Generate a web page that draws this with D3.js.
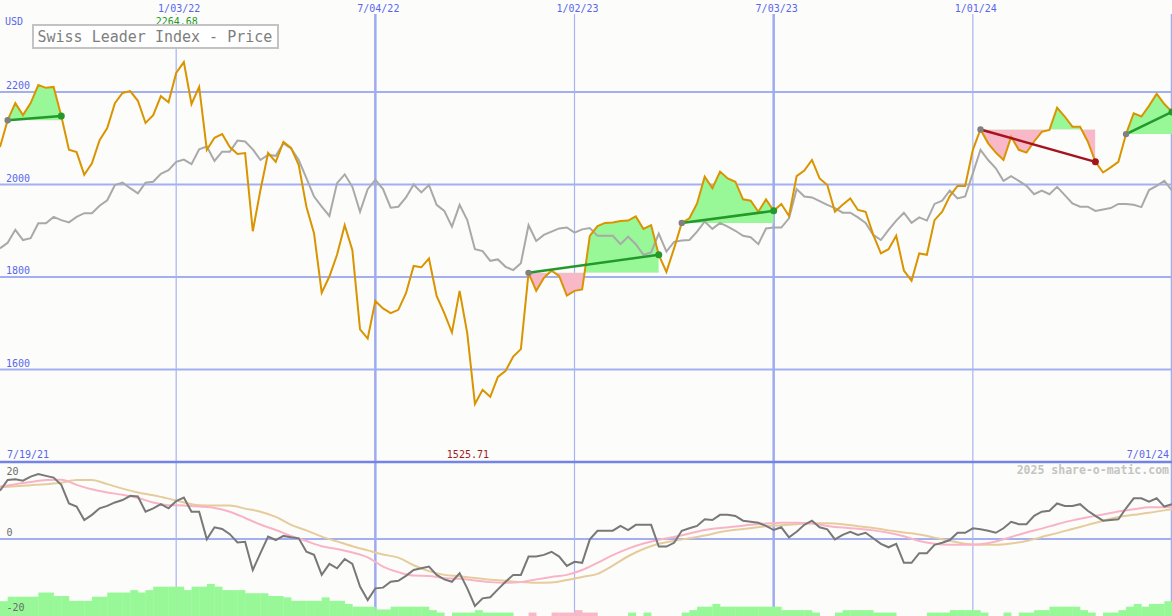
<!DOCTYPE html>
<html><head><meta charset="utf-8">
<script src="https://cdn.jsdelivr.net/npm/d3@7/dist/d3.min.js"></script>
<style>html,body{margin:0;padding:0;background:#fcfdfa;}svg{display:block;}</style>
</head><body>
<svg id="c" width="1172" height="616"></svg>
<script>
// ---------- DATA ----------
const firstWeek = "2021-07-26";   // first weekly point
const title = "Swiss Leader Index - Price";
const currency = "USD";
const startLabel = "7/19/21";
const endLabel = "7/01/24";
const watermark = "2025 share-o-matic.com";

const price = [
2081,2139,2176,2150,2176,2215,2209,2211,2148,2075,
2070,2021,2046,2096,2122,2176,2198,2202,2181,2133,
2150,2191,2178,2241,2264.68,2174,2211,2075,2101,2109,
2081,2066,2068,1899,1988,2068,2049,2092,2079,2042,
1952,1894,1766,1801,1848,1912,1858,1687,1667,1748,
1732,1722,1729,1765,1824,1821,1840,1759,1722,1680,
1770,1678,1525.71,1556,1541,1584,1597,1628,1644,1809,
1770,1798,1814,1802,1760,1770,1773,1889,1910,1917,
1918,1921,1922,1931,1904,1912,1848,1811,1862,1917,
1927,1959,2017,1992,2028,2013,2006,1968,1965,1941,
1968,1943,1958,1932,2018,2030,2053,2013,1999,1941,
1956,1970,1945,1941,1891,1851,1860,1889,1814,1792,
1851,1848,1923,1941,1975,1997,1997,2075,2119,2089,
2069,2053,2103,2075,2069,2093,2114,2118,2166,2147,
2125,2125,2093,2049,2026,2037,2049,2109,2154,2147,
2170,2196,2174,2157];

const benchmark = [
1862,1874,1902,1880,1884,1916,1916,1930,1923,1918,
1930,1938,1938,1954,1966,1999,2004,1992,1981,2004,
2006,2023,2031,2049,2054,2044,2076,2082,2051,2071,
2071,2095,2093,2076,2053,2064,2062,2089,2078,2053,
2014,1974,1952,1932,2003,2022,1995,1941,1990,2010,
1990,1950,1952,1972,2000,1983,1999,1956,1943,1909,
1956,1923,1860,1856,1835,1838,1822,1815,1830,1912,
1878,1891,1898,1905,1907,1896,1903,1906,1889,1889,
1889,1871,1887,1871,1848,1853,1894,1855,1876,1879,
1880,1898,1920,1904,1917,1909,1900,1889,1886,1871,
1905,1907,1907,1927,1990,1974,1972,1964,1956,1949,
1939,1939,1929,1917,1891,1880,1902,1922,1939,1917,
1929,1922,1958,1965,1987,1970,1974,2024,2075,2053,
2035,2008,2018,2008,1997,1979,1987,1979,1995,1977,
1959,1952,1952,1943,1946,1949,1958,1958,1956,1951,
1988,1997,2008,1987];

const momentum = [
14.0,17.1,17.3,16.9,18.1,18.8,18.3,17.8,15.7,10.3,
9.4,5.5,7.0,8.9,9.6,10.6,11.3,12.5,12.3,7.9,
8.9,10.1,8.9,11.0,12.0,7.9,7.9,-0.1,3.4,2.9,
1.4,-1.0,-0.8,-9.0,-4.1,0.7,-0.3,0.9,0.5,0.2,
-3.7,-4.6,-10.4,-7.2,-8.5,-5.8,-7.2,-13.8,-17.7,-14.3,
-14.1,-12.4,-12.1,-10.7,-9.0,-8.5,-8.0,-10.4,-11.7,-12.4,
-9.9,-14.3,-19.4,-17.2,-16.9,-14.6,-12.4,-10.4,-10.4,-5.1,
-5.1,-4.6,-3.7,-5.1,-7.8,-6.6,-6.9,-0.1,2.4,2.4,
2.4,3.8,2.6,4.1,4.1,4.1,-2.2,-2.2,-1.1,2.4,
3.1,3.8,5.7,5.5,7.0,7.0,6.7,5.3,5.0,4.7,
3.8,2.6,3.4,0.5,2.1,4.1,5.3,3.4,2.8,-0.1,
1.2,2.1,1.2,1.8,0.2,-1.4,-2.4,-1.4,-6.9,-6.9,
-4.1,-4.1,-1.7,-1.1,-0.3,1.8,1.8,3.1,2.8,2.4,
1.8,3.1,5.0,4.3,4.3,6.7,7.9,8.2,10.3,9.6,
9.6,10.1,8.2,6.7,5.3,5.5,5.7,8.9,11.8,11.8,
10.8,11.8,9.4,10.1];

// moving averages of the momentum, read every second week (+ last week)
const maFast = [
15.2,15.9,16.5,17.1,17.2,15.7,14.4,13.5,12.8,11.9,
10.6,9.8,9.7,9.4,9.0,7.9,6.1,4.2,2.6,0.9,
-0.6,-2.1,-2.9,-3.9,-5.3,-8.0,-9.6,-10.6,-10.7,-11.4,
-11.5,-12.0,-12.5,-12.7,-12.5,-11.7,-11.0,-10.4,-9.0,-6.9,
-4.7,-2.8,-1.3,-0.2,0.6,1.6,2.6,3.2,3.6,4.1,
4.5,4.7,4.7,4.5,3.8,3.3,3.0,2.5,1.8,0.8,
-0.6,-1.4,-1.7,-1.7,-1.5,-0.7,0.6,1.9,3.0,4.3,
5.4,6.3,7.1,8.0,8.6,9.2,9.2,9.2];
const maSlow = [
15.0,15.3,15.6,15.9,16.3,17.1,17.1,15.9,14.6,13.5,
12.7,11.7,10.6,9.8,9.7,9.7,8.8,7.9,6.4,4.1,
2.5,0.7,-0.7,-2.1,-3.3,-4.5,-5.4,-7.6,-9.3,-10.4,
-10.8,-11.3,-11.8,-12.1,-12.5,-12.7,-12.6,-11.9,-11.0,-10.1,
-7.7,-5.0,-2.9,-1.4,-0.5,0.2,1.0,2.0,2.7,3.1,
3.7,4.0,4.3,4.6,4.6,4.3,3.7,3.2,2.5,1.9,
1.3,0.4,-0.5,-1.4,-1.7,-1.7,-1.3,-0.6,0.6,1.7,
2.9,4.1,5.3,6.4,7.0,7.6,8.3,8.6];

const histogram = [
4.3,5.6,5.6,5.6,5.6,6.8,6.8,5.8,5.8,4.4,
4.4,4.4,5.6,5.6,6.8,6.8,6.8,7.5,6.8,7.5,
8.5,8.5,8.5,8.5,7.5,8.5,8.5,9.3,8.5,7.5,
7.5,7.5,6.6,6.6,6.6,5.8,5.8,5.4,4.4,4.4,
4.4,4.4,5.4,4.4,4.4,3.5,2.7,2.7,2.7,1.9,
1.9,2.7,2.7,2.7,2.7,2.7,1.7,1.0,0,1.0,
1.0,1.0,1.7,1.0,1.0,1.0,1.0,0,0,-1.0,
0,0,-1.0,-1.0,-1.0,-1.7,-1.0,-1.0,0,0,
0,0,1.0,0,1.0,0,0,0,0,1.0,
1.7,2.7,2.7,3.5,2.7,2.7,2.7,2.7,2.7,2.7,
2.7,2.7,1.7,1.7,1.7,1.7,1.0,0,0,1.0,
1.7,1.7,1.7,1.7,1.0,1.0,1.0,0,0,0,
0,1.0,1.0,1.0,1.7,1.7,1.7,1.7,1.0,0,
0,1.0,0,1.0,1.0,1.7,1.7,2.7,2.7,2.7,
2.7,1.7,1.0,0,1.0,1.0,1.7,2.7,3.5,2.7,
3.5,3.5,4.3,0];

const trendStart = [1, 69, 89, 128, 147];
const trendEnd   = [8, 86, 101, 143, 153];

const xTickDates  = ["2022-01-03","2022-07-04","2023-01-02","2023-07-03","2024-01-01","2024-07-01"];
const xTickLabels = ["1/03/22","7/04/22","1/02/23","7/03/23","1/01/24",""];
const yTicks = [1600, 1800, 2000, 2200];
const yTickLabels = ["1600","1800","2000","2200"];
const bTicks = [-20, 0, 20];
const bTickLabels = ["-20","0","20"];

// ---------- CHART ----------
const W = 1172, H = 616;
const parse = d3.timeParse("%Y-%m-%d");
const d0 = parse(firstWeek);
const dates = price.map((_, i) => d3.timeDay.offset(d0, 7 * i));
const maDates = d3.range(0, price.length - 1, 2).concat([price.length - 1]).map(i => dates[i]);

const x = d3.scaleTime().domain([dates[0], dates[dates.length - 1]]).range([0, W]);
const y = d3.scaleLinear().domain([1600, 2200]).range([369.5, 92]);
const yb = d3.scaleLinear().domain([-20, 20]).range([608, 470]);
const hh = d3.scaleLinear().domain([0, 20]).range([0, 69]);

const svg = d3.select("#c");
const mono = "'DejaVu Sans Mono', 'Liberation Mono', monospace";
svg.append("rect").attr("width", W).attr("height", H).attr("fill", "#fcfdfa");

const gridColor = "#a3aff0";
// horizontal grid main
svg.append("g").selectAll("line").data(yTicks).join("line")
  .attr("x1", 0).attr("x2", W).attr("y1", d => y(d)).attr("y2", d => y(d))
  .attr("stroke", gridColor).attr("stroke-width", 2);
// bottom zero line
svg.append("line").attr("x1", 0).attr("x2", W).attr("y1", yb(0)).attr("y2", yb(0))
  .attr("stroke", gridColor).attr("stroke-width", 2);
// vertical grid
xTickDates.forEach(s => {
  const d = parse(s), jul = d.getMonth() === 6;
  svg.append("line").attr("x1", x(d)).attr("x2", x(d)).attr("y1", 14).attr("y2", H)
    .attr("stroke", jul ? "#9fabef" : "#a8b3f2").attr("stroke-width", jul ? 2.5 : 1.2);
});
// separator
svg.append("line").attr("x1", 0).attr("x2", W).attr("y1", 462).attr("y2", 462)
  .attr("stroke", "#7484e6").attr("stroke-width", 2.5);

// histogram
const green = "#98f898", pink = "#f8b8c8";
svg.append("g").selectAll("rect").data(histogram.slice(0, -1)).join("rect")
  .attr("x", (d, i) => x(dates[i]))
  .attr("width", (d, i) => x(dates[i + 1]) - x(dates[i]) + 0.3)
  .attr("y", d => H - hh(Math.abs(d)))
  .attr("height", d => hh(Math.abs(d)))
  .attr("fill", d => d >= 0 ? green : pink);

// bottom lines
const lb = d3.line().x((d, i) => x(dates[i])).y(d => yb(d));
const lm = d3.line().x((d, i) => x(maDates[i])).y(d => yb(d)).curve(d3.curveMonotoneX);
svg.append("path").attr("d", lm(maSlow)).attr("fill", "none").attr("stroke", "#e6cc9c").attr("stroke-width", 2);
svg.append("path").attr("d", lm(maFast)).attr("fill", "none").attr("stroke", "#f8b4c6").attr("stroke-width", 2);
svg.append("path").attr("d", lb(momentum)).attr("fill", "none").attr("stroke", "#787878").attr("stroke-width", 2);

// trend fills
const defs = svg.append("defs");
trendStart.forEach((s, k) => {
  const e = trendEnd[k];
  const idx = d3.range(s, e + 1);
  const base = y(price[s]);
  const x0 = x(dates[s]), x1 = x(dates[e]);
  defs.append("clipPath").attr("id", "up" + k).append("rect")
    .attr("x", x0).attr("width", x1 - x0).attr("y", 0).attr("height", base);
  defs.append("clipPath").attr("id", "dn" + k).append("rect")
    .attr("x", x0).attr("width", x1 - x0).attr("y", base).attr("height", 462 - base);
  const ar = d3.area().x(i => x(dates[i])).y0(base).y1(i => y(price[i]));
  svg.append("path").attr("d", ar(idx)).attr("fill", green).attr("clip-path", `url(#up${k})`);
  svg.append("path").attr("d", ar(idx)).attr("fill", pink).attr("clip-path", `url(#dn${k})`);
});

// main lines
const lp = d3.line().x((d, i) => x(dates[i])).y(d => y(d));
svg.append("path").attr("d", lp(benchmark)).attr("fill", "none").attr("stroke", "#a9a9a9").attr("stroke-width", 2);
svg.append("path").attr("d", lp(price)).attr("fill", "none").attr("stroke", "#d99400").attr("stroke-width", 2);

// trend lines
trendStart.forEach((s, k) => {
  const e = trendEnd[k];
  const up = price[e] >= price[s];
  const col = up ? "#22992a" : "#a3141e";
  svg.append("line").attr("x1", x(dates[s])).attr("y1", y(price[s]))
    .attr("x2", x(dates[e])).attr("y2", y(price[e]))
    .attr("stroke", col).attr("stroke-width", 2.5);
  svg.append("circle").attr("cx", x(dates[s])).attr("cy", y(price[s])).attr("r", 3.2).attr("fill", "#808080");
  svg.append("circle").attr("cx", x(dates[e])).attr("cy", y(price[e])).attr("r", 3.5).attr("fill", col);
});

// ---------- TEXT ----------
const blue = "#5866ee";
function txt(t, xx, yy, col, size, anchor, weight) {
  return svg.append("text").attr("x", xx).attr("y", yy).text(t)
    .attr("fill", col).attr("font-family", mono).attr("font-size", size)
    .attr("text-anchor", anchor || "start").attr("font-weight", weight || "normal");
}
yTicks.forEach((t, i) => txt(yTickLabels[i], 6, y(t) - 3, blue, 10));
xTickDates.forEach((s, i) => txt(xTickLabels[i], x(parse(s)) + 3, 12, blue, 10, "middle"));
txt(currency, 5, 25, blue, 10);

// max label
const iMax = d3.maxIndex(price), iMin = d3.minIndex(price);
const fmt = d3.format(".2f");
svg.append("rect").attr("x", x(dates[iMax]) - 29).attr("y", 15).attr("width", 50).attr("height", 10).attr("fill", "#fcfdfa");
txt(fmt(price[iMax]), x(dates[iMax]) - 7, 25, "#1f9a1f", 10, "middle");
txt(fmt(price[iMin]), x(dates[iMin]) - 7, 458, "#a01c1c", 10, "middle");
txt(startLabel, 7, 458, blue, 10);
txt(endLabel, 1169, 458, blue, 10, "end");
txt(watermark, 1169, 474, "#c4c4c4", 11.5, "end", "bold");
bTicks.forEach((t, i) => {
  const off = t === 0 ? -3 : (t > 0 ? 4.5 : 3);
  txt(bTickLabels[i], t < 0 ? 6.5 : 6.5, yb(t) + off, "#6a6a6a", 10);
});

// title box
svg.append("rect").attr("x", 33).attr("y", 25).attr("width", 245).attr("height", 23)
  .attr("fill", "#ffffff").attr("stroke", "#c3c3c3").attr("stroke-width", 2);
txt(title, 37.5, 41.5, "#7e7e7e", 15);
</script>
</body></html>
